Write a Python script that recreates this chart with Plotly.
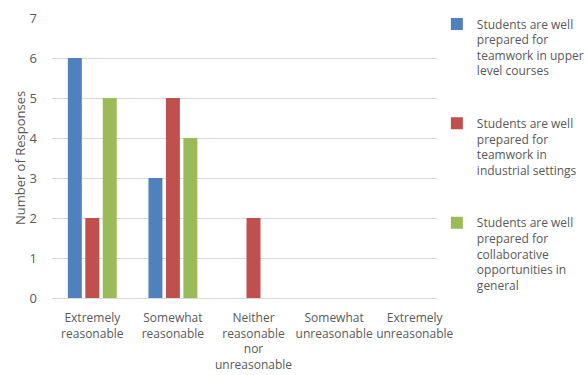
import plotly.graph_objects as go

# Survey response categories (x axis)
categories = [
    "Extremely<br>reasonable",
    "Somewhat<br>reasonable",
    "Neither<br>reasonable<br>nor<br>unreasonable",
    "Somewhat<br>unreasonable",
    "Extremely<br>unreasonable",
]

# Series names (wrapped for the legend)
series_names = [
    "Students are well<br>prepared for<br>teamwork in upper<br>level courses",
    "Students are well<br>prepared for<br>teamwork in<br>industrial settings",
    "Students are well<br>prepared for<br>collaborative<br>opportunities in<br>general",
]

# Number of responses per category
upper_level = [6, 3, 0, 0, 0]
industrial = [2, 5, 2, 0, 0]
collaborative = [5, 4, 0, 0, 0]

series_values = [upper_level, industrial, collaborative]
colors = ["#4F81BD", "#C0504D", "#9BBB59"]

y_ticks = [0, 1, 2, 3, 4, 5, 6, 7]

font_family = "Open Sans, Liberation Sans, sans-serif"
text_color = "#595959"

fig = go.Figure()
for i, (name, vals, col) in enumerate(zip(series_names, series_values, colors)):
    fig.add_trace(go.Bar(
        x=categories,
        y=vals,
        name=name,
        legendgroup=f"g{i}",
        marker=dict(color=col, line=dict(width=0)),
    ))

fig.update_layout(
    width=588,
    height=375,
    barmode="group",
    bargap=0.35,
    bargroupgap=0.2,
    plot_bgcolor="white",
    paper_bgcolor="white",
    margin=dict(l=52, r=133, t=18, b=77, autoexpand=False),
    font=dict(family=font_family, size=12, color=text_color),
    legend=dict(
        x=0.955,
        xanchor="left",
        y=1.03,
        yanchor="top",
        valign="top",
        maxheight=360,
        font=dict(family=font_family, size=12, color=text_color),
        tracegroupgap=34,
        itemwidth=30,
        traceorder="grouped",
    ),
    showlegend=True,
)

fig.update_xaxes(
    showgrid=False,
    showline=False,
    ticks="",
    tickangle=0,
    ticklabelstandoff=11,
    tickfont=dict(size=12, color=text_color),
)
fig.update_yaxes(
    range=[0, 7],
    tickvals=y_ticks,
    showgrid=True,
    gridcolor="#D9D9D9",
    gridwidth=1,
    zeroline=True,
    zerolinecolor="#D9D9D9",
    zerolinewidth=1,
    showline=False,
    ticks="",
    ticklabelstandoff=14,
    tickfont=dict(size=13, color=text_color),
    title=dict(text="Number of Responses", font=dict(size=13, color=text_color), standoff=1),
)

fig.write_html("out.html")
